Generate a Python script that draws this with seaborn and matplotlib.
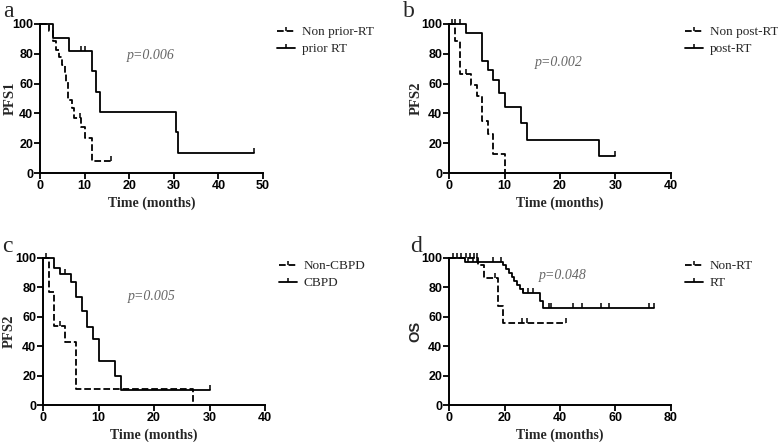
import numpy as np
import pandas as pd
import matplotlib
matplotlib.use("Agg")
import matplotlib.pyplot as plt
from matplotlib.path import Path
from matplotlib.lines import Line2D
import seaborn as sns

# ---- data (months, % surviving) ----
# panel a : PFS1
a_non_t = [0, 2.1, 3.0, 3.6, 4.3, 4.9, 5.5, 5.9, 6.2, 7.1, 7.6, 9.2, 10.1, 11.6, 16.0]
a_non_s = [100, 95.5, 88.4, 82.8, 77.6, 72.3, 66.7, 60.9, 48.8, 43.4, 36.7, 30.6, 23.5, 7.8, 7.8]
a_non_cens = [9.0, 16.0]
a_rt_t = [0, 2.9, 6.6, 11.7, 12.6, 13.5, 30.5, 31.0, 48.0]
a_rt_s = [100, 90.9, 81.8, 68.2, 54.5, 40.9, 27.3, 13.6, 13.6]
a_rt_cens = [9.1, 10.0, 48.0]

# panel b : PFS2 by post-RT
b_non_t = [0, 1, 2, 4, 5, 6, 7, 8, 10]
b_non_s = [100, 88.9, 66.7, 59.3, 51.9, 34.6, 25.9, 13.0, 0]
b_non_cens = [0.5, 3.0]
b_post_t = [0, 3, 6, 7, 8, 9, 10, 13, 14, 27, 30]
b_post_s = [100, 94.1, 75.3, 69.4, 62.2, 53.5, 44.6, 33.5, 22.3, 11.2, 11.2]
b_post_cens = [1.0, 1.9, 30.0]

# panel c : PFS2 by CBPD
c_non_t = [0, 1, 2, 4, 6, 27]
c_non_s = [100, 76.9, 53.8, 43.1, 10.8, 0]
c_non_cens = [3.0]
c_cb_t = [0, 2, 3, 5, 6, 7, 8, 9, 10, 13, 14, 30]
c_cb_s = [100, 93.3, 89.1, 83.9, 73.7, 64.2, 52.8, 44.7, 30.2, 19.9, 10.2, 10.2]
c_cb_cens = [0.5, 4.0, 30.0]

# panel d : OS
d_non_t = [0, 10.6, 12.6, 17.6, 19.6, 42.0]
d_non_s = [100, 95.2, 86.6, 67.3, 56.1, 56.1]
d_non_cens = [6.0, 7.5, 9.0, 10.0, 16.6, 26.2, 28.0, 42.0]
d_rt_t = [0, 5.8, 19.6, 20.6, 21.6, 22.6, 23.6, 24.6, 25.6, 26.6, 32.8, 34.0, 74.0]
d_rt_s = [100, 97.6, 94.9, 92.2, 89.5, 86.8, 84.1, 81.4, 78.7, 76.0, 71.0, 65.8, 65.8]
d_rt_cens = [1.5, 2.8, 4.2, 7.0, 8.6, 10.0, 15.7, 18.7, 26.7, 28.5, 30.3, 36.0,
             36.8, 44.7, 47.9, 54.8, 57.8, 72.0, 74.0]

panels = [
    dict(letter="a", ylabel="PFS1", xmax=50, pval="p=0.006", ptxt=(24.9, 79),
         groups=[("Non prior-RT", a_non_t, a_non_s, a_non_cens, "--"),
                 ("prior RT", a_rt_t, a_rt_s, a_rt_cens, "-")]),
    dict(letter="b", ylabel="PFS2", xmax=40, pval="p=0.002", ptxt=(19.8, 74),
         groups=[("Non post-RT", b_non_t, b_non_s, b_non_cens, "--"),
                 ("post-RT", b_post_t, b_post_s, b_post_cens, "-")]),
    dict(letter="c", ylabel="PFS2", xmax=40, pval="p=0.005", ptxt=(19.6, 74),
         groups=[("Non-CBPD", c_non_t, c_non_s, c_non_cens, "--"),
                 ("CBPD", c_cb_t, c_cb_s, c_cb_cens, "-")]),
    dict(letter="d", ylabel="OS", xmax=80, pval="p=0.048", ptxt=(41, 88),
         groups=[("Non-RT", d_non_t, d_non_s, d_non_cens, "--"),
                 ("RT", d_rt_t, d_rt_s, d_rt_cens, "-")]),
]

sns.set_style("ticks")
plt.rcParams["font.family"] = ["Liberation Sans", "DejaVu Sans"]
SERIF = ["Liberation Serif", "DejaVu Serif"]

# upward censor tick
tick = Path([(0, 0), (0, 1)], [Path.MOVETO, Path.LINETO])

fig = plt.figure(figsize=(7.78, 4.42), dpi=100)
W, H = 778, 442
# axes boxes in pixels: left, top(y=100), right, bottom(y=0)
boxes = [(40, 24, 263, 173), (449, 24, 671, 173), (43, 258, 265, 405), (449, 258, 671, 405)]
letter_pos = [(3, 17), (403, 17), (2, 252), (410, 252)]
ylab_x = [-0.106, -0.118, -0.122, -0.118]

for p, (l, t, r, b), lp, yx in zip(panels, boxes, letter_pos, ylab_x):
    ax = fig.add_axes([l / W, 1 - b / H, (r - l) / W, (b - t) / H])
    handles = []
    for name, tt, ss, cens, ls in p["groups"]:
        df = pd.DataFrame({"t": tt, "s": ss})
        sns.lineplot(data=df, x="t", y="s", ax=ax, color="black", lw=1.3,
                     linestyle=ls, drawstyle="steps-post", estimator=None,
                     sort=False, clip_on=False)
        tt_a, ss_a = np.array(tt), np.array(ss)
        idx = np.searchsorted(tt_a, cens, side="right") - 1
        ax.plot(cens, ss_a[idx], ls="none", marker=tick, ms=7, mew=1.1,
                color="black", clip_on=False)
        handles.append(Line2D([], [], color="black", lw=1.3, ls=ls,
                              marker=tick, ms=6, mew=1.1, label=name))
    ax.set_xlim(0, p["xmax"])
    ax.set_ylim(0, 100)
    ax.set_xticks(np.linspace(0, p["xmax"], 5 if p["xmax"] != 50 else 6))
    ax.set_yticks(range(0, 101, 20))
    sns.despine(ax=ax)
    for sp in ("left", "bottom"):
        ax.spines[sp].set_linewidth(1.4)
        ax.spines[sp].set_color("black")
    ax.tick_params(length=4, width=1.3, labelsize=9, pad=1, colors="black")
    for lab in ax.get_xticklabels() + ax.get_yticklabels():
        lab.set_fontweight("bold")
    ax.set_xlabel("Time (months)", family=SERIF, fontweight="bold", fontsize=10, labelpad=3)
    if p["ylabel"] == "OS":
        ax.set_ylabel("OS", fontweight="bold", fontsize=10.5)
    else:
        ax.set_ylabel(p["ylabel"], family=SERIF, fontweight="bold", fontsize=10.5)
    ax.yaxis.set_label_coords(yx, 0.5)
    ax.text(*p["ptxt"], p["pval"], family=SERIF, style="italic", fontsize=10,
            color="#666666", ha="center", va="center")
    ax.legend(handles=handles, loc="upper left", bbox_to_anchor=(1.065, 0.985),
              frameon=False, borderpad=0, borderaxespad=0, handlelength=1.3,
              handletextpad=0.55, labelspacing=0.35,
              prop=dict(family=SERIF, size=9.5))
    fig.text(lp[0] / W, 1 - lp[1] / H, p["letter"], family=SERIF, fontsize=17,
             ha="left", va="baseline")

fig.savefig("out.png", dpi=100)
